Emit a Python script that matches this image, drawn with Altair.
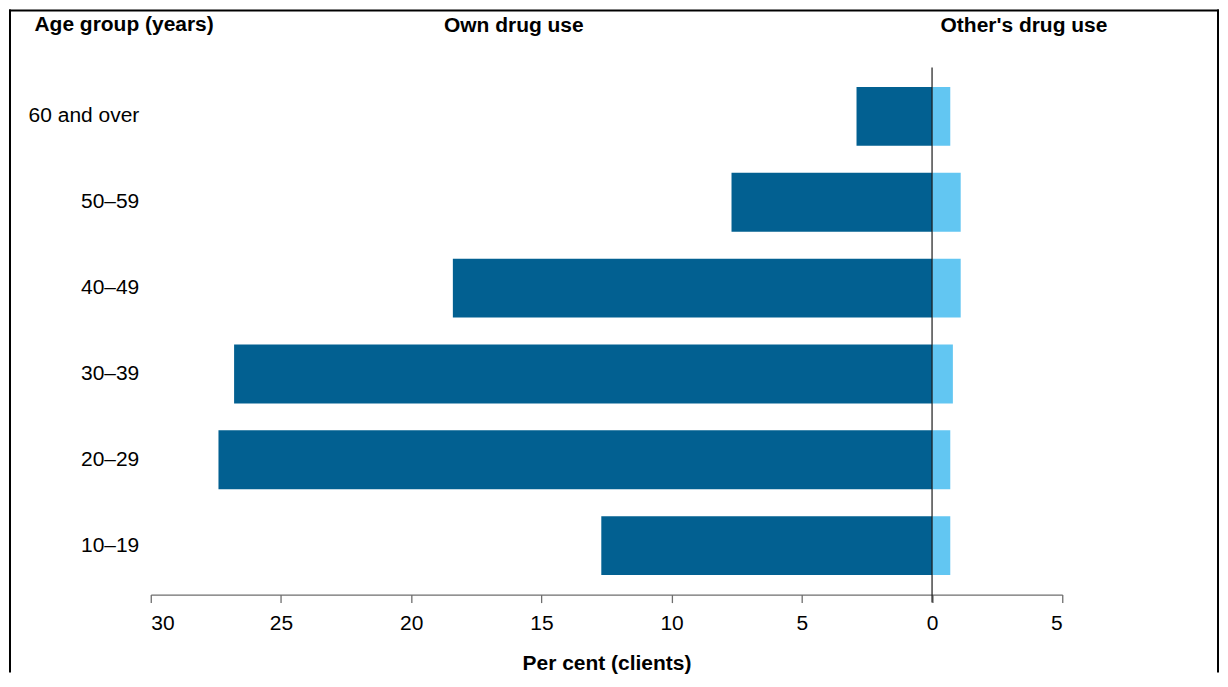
import altair as alt
import pandas as pd

# ---- data ----
ages = ["60 and over", "50–59", "40–49", "30–39", "20–29", "10–19"]
own_use = [2.9, 7.7, 18.4, 26.8, 27.4, 12.7]
others_use = [0.7, 1.1, 1.1, 0.8, 0.7, 0.7]
series = ["Own drug use", "Other's drug use"]
series_colors = ["#026091", "#62C6F2"]
x_ticks = [-30, -25, -20, -15, -10, -5, 0, 5]
header_labels = ["Own drug use", "Other's drug use"]
header_x = [-16.06, 3.53]

rows = []
for a, o, t in zip(ages, own_use, others_use):
    rows.append({"age": a, "series": series[0], "value": -o})
    rows.append({"age": a, "series": series[1], "value": t})
df = pd.DataFrame(rows)

FONT = "Liberation Sans"
FS = 21
W, H = 913, 528

x_scale = alt.Scale(domain=[-30, 5], nice=False, zero=False)

bars = alt.Chart(df).mark_bar().encode(
    x=alt.X(
        "value:Q",
        stack=None,
        scale=x_scale,
        axis=alt.Axis(
            values=x_ticks,
            labelExpr="format(abs(datum.value), 'd')",
            title="Per cent (clients)",
            grid=False,
            domainColor="#6e6e6e",
            domainWidth=1.3,
            tickColor="#6e6e6e",
            tickWidth=1.3,
            tickSize=8,
            labelFont=FONT,
            labelFontSize=FS,
            labelColor="black",
            labelPadding=10,
            titleFont=FONT,
            titleFontSize=FS,
            titleFontWeight="bold",
            titleColor="black",
            titleBaseline="alphabetic",
            titleY=75,
        ),
    ),
    y=alt.Y(
        "age:N",
        sort=ages,
        scale=alt.Scale(paddingInner=0.314, paddingOuter=0.227),
        axis=alt.Axis(
            title="Age group (years)",
            titleAngle=0,
            titleAlign="left",
            titleBaseline="alphabetic",
            titleX=-117,
            titleY=-37,
            titleFont=FONT,
            titleFontSize=FS,
            titleFontWeight="bold",
            titleColor="black",
            domain=False,
            ticks=False,
            labelPadding=12,
            labelFont=FONT,
            labelFontSize=FS,
            labelColor="black",
        ),
    ),
    color=alt.Color(
        "series:N",
        scale=alt.Scale(domain=series, range=series_colors),
        legend=None,
    ),
)

zero_line = alt.Chart(pd.DataFrame({"value": [0]})).mark_rule(
    color="#1a1a1a", strokeWidth=1.2
).encode(
    x=alt.X("value:Q", scale=x_scale),
    y=alt.value(0),
    y2=alt.value(H + 8),
)

headers = alt.Chart(pd.DataFrame({"label": header_labels, "value": header_x})).mark_text(
    font=FONT, fontSize=FS, fontWeight="bold", color="black",
    align="center", baseline="alphabetic",
).encode(
    x=alt.X("value:Q", scale=x_scale),
    y=alt.value(-36),
    text="label:N",
)

frame_data = alt.Data(values=[{"k": 1}])
frame_style = dict(color="black", strokeWidth=2)
frame_left = alt.Chart(frame_data).mark_rule(**frame_style).encode(
    x=alt.value(-141), y=alt.value(-58), y2=alt.value(606)
)
frame_top = alt.Chart(frame_data).mark_rule(**frame_style).encode(
    x=alt.value(-142), x2=alt.value(1070), y=alt.value(-57)
)
frame_right = alt.Chart(frame_data).mark_rule(**frame_style).encode(
    x=alt.value(1069), y=alt.value(-58), y2=alt.value(606)
)

chart = alt.layer(
    bars, zero_line, headers, frame_left, frame_top, frame_right
).properties(
    width=W, height=H, padding=0, background="white"
).configure_view(stroke=None)

chart.save("out.html", embed_options={"renderer": "svg", "actions": False})
